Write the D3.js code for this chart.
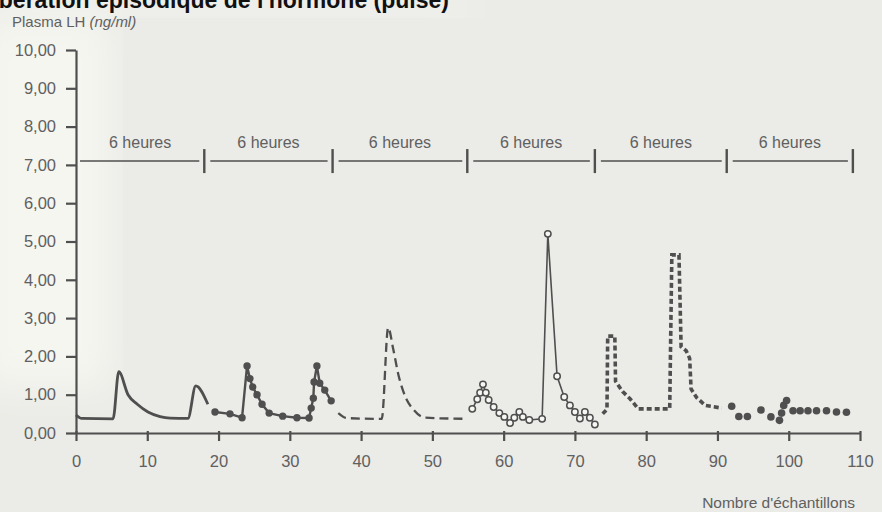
<!DOCTYPE html>
<html>
<head>
<meta charset="utf-8">
<script src="https://cdn.jsdelivr.net/npm/d3@7"></script>
<style>
  html, body { margin: 0; padding: 0; background: #ebebe7; }
  svg { display: block; font-family: "Liberation Sans", Arial, Helvetica, sans-serif; }
</style>
</head>
<body>
<svg id="chart" width="882" height="512"></svg>
<script>
// Plasma LH (ng/ml) sampled over 36 hours, six 6-hour blocks.
// Each block: [sample number, LH value]
const block1 = [[0,0.47],[0.8,0.38],[5.2,0.37],[6.0,1.6],[7.3,1.0],[8.6,0.75],[10.1,0.55],[11.8,0.43],[13.2,0.39],[15.7,0.38],[16.8,1.23],[18.5,0.75]];
const block2 = [[19.5,0.55],[21.6,0.5],[23.3,0.4],[24.0,1.75],[24.4,1.42],[24.8,1.2],[25.4,1.0],[26.1,0.75],[27.1,0.52],[29.0,0.44],[31.0,0.4],[32.7,0.39],[33.0,0.65],[33.3,0.91],[33.4,1.33],[33.8,1.75],[34.2,1.3],[34.9,1.12],[35.8,0.84]];
const block3 = [[36.8,0.52],[38.0,0.39],[42.9,0.37],[43.8,2.75],[44.5,2.2],[45.2,1.55],[46.2,0.95],[47.4,0.6],[49.0,0.4],[54.9,0.37]];
const block4 = [[55.6,0.63],[56.3,0.88],[56.7,1.05],[57.1,1.27],[57.5,1.05],[57.9,0.86],[58.6,0.68],[59.4,0.52],[60.1,0.42],[60.9,0.26],[61.5,0.4],[62.2,0.55],[62.7,0.42],[63.6,0.34],[65.4,0.37],[66.2,5.2],[67.5,1.48],[68.5,0.94],[69.3,0.72],[70.0,0.55],[70.7,0.38],[71.4,0.55],[72.1,0.4],[72.8,0.22]];
const block5 = [[73.9,0.5],[74.5,0.62],[74.6,2.53],[75.6,2.53],[75.7,1.35],[76.7,1.08],[77.7,0.9],[78.9,0.63],[83.3,0.63],[83.6,4.65],[84.6,4.65],[84.9,2.25],[85.6,2.15],[86.1,1.95],[86.3,1.15],[87.1,0.92],[88.3,0.72],[90.6,0.65]];
const block6 = [[92.0,0.7],[93.0,0.43],[94.2,0.43],[96.1,0.6],[97.5,0.42],[98.7,0.33],[99.0,0.52],[99.3,0.72],[99.7,0.85],[100.6,0.58],[101.6,0.58],[102.7,0.58],[103.9,0.58],[105.3,0.58],[106.7,0.55],[108.1,0.54]];

const yTicks = [0,1,2,3,4,5,6,7,8,9,10];
const xTicks = [0,10,20,30,40,50,60,70,80,90,100,110];
const blockEnds = [18, 36, 54.9, 72.8, 91.3, 109];   // sample where each 6 h block ends
const blockLabel = "6 heures";
const blockLevel = 7.1;                               // height of the block brackets

const titleText = "Libération épisodique de l'hormone (pulse)";
const yTitle = "Plasma LH";
const yUnit = "(ng/ml)";
const xTitle = "Nombre d'échantillons";

const ink = "#4f4f4f";
const textInk = "#606060";

const svg = d3.select("#chart");

// soft page tone
const defs = svg.append("defs");
defs.append("filter").attr("id", "soft").append("feGaussianBlur").attr("stdDeviation", 18);
svg.append("rect").attr("width", 882).attr("height", 512).attr("fill", "#ebebe7");
svg.append("rect").attr("x", -20).attr("y", 18).attr("width", 130).attr("height", 370)
  .attr("fill", "#f6f6f1").attr("filter", "url(#soft)");
svg.append("rect").attr("x", 0).attr("y", 0).attr("width", 470).attr("height", 16)
  .attr("fill", "#f4f4f0").attr("filter", "url(#soft)");

const x = d3.scaleLinear().domain([0, 110]).range([76, 860]);
const y = d3.scaleLinear().domain([0, 10]).range([433, 50]);

const fr = d3.formatLocale({decimal: ",", thousands: " ", grouping: [3], currency: ["", " €"]});
const fmt = fr.format(".2f");

// axes
const gy = svg.append("g").attr("transform", `translate(${x(0)},0)`)
  .call(d3.axisLeft(y).tickValues(yTicks).tickSize(10).tickSizeOuter(0).tickPadding(10).tickFormat(fmt));
const gx = svg.append("g").attr("transform", `translate(0,${y(0)})`)
  .call(d3.axisBottom(x).tickValues(xTicks).tickSize(8).tickSizeOuter(0).tickPadding(14).tickFormat(d3.format("d")));
[gy, gx].forEach(g => {
  g.selectAll("path.domain").attr("stroke", ink).attr("stroke-width", 2.2);
  g.selectAll(".tick line").attr("stroke", ink).attr("stroke-width", 2.2);
  g.selectAll(".tick text").attr("fill", textInk).attr("font-size", 16.5);
});
gx.selectAll(".tick line").attr("y1", -2);

// titles
svg.append("text").attr("x", 449).attr("y", 8).attr("text-anchor", "end")
  .attr("font-size", 23).attr("font-weight", "bold").attr("fill", "#111").text(titleText);
const yt = svg.append("text").attr("x", 12).attr("y", 27).attr("font-size", 15).attr("fill", textInk);
yt.append("tspan").text(yTitle + " ");
yt.append("tspan").attr("font-style", "italic").text(yUnit);
svg.append("text").attr("x", 855).attr("y", 508).attr("text-anchor", "end")
  .attr("font-size", 15.5).attr("fill", textInk).text(xTitle);

// 6-hour brackets
const by = y(blockLevel);
const starts = [0].concat(blockEnds.slice(0, -1));
const gb = svg.append("g");
blockEnds.forEach((e, i) => {
  const s = starts[i];
  gb.append("line").attr("x1", x(s) + (i === 0 ? 4 : 6)).attr("x2", x(e) - 5)
    .attr("y1", by).attr("y2", by).attr("stroke", ink).attr("stroke-width", 1.6);
  gb.append("line").attr("x1", x(e)).attr("x2", x(e)).attr("y1", by - 12).attr("y2", by + 12)
    .attr("stroke", ink).attr("stroke-width", 2.4);
  gb.append("text").attr("x", (x(s) + x(e)) / 2).attr("y", by - 13).attr("text-anchor", "middle")
    .attr("font-size", 16).attr("fill", textInk).text(blockLabel);
});

// series
const lineSmooth = d3.line().x(d => x(d[0])).y(d => y(d[1])).curve(d3.curveMonotoneX);
const lineStraight = d3.line().x(d => x(d[0])).y(d => y(d[1]));

svg.append("path").datum(block1).attr("d", lineSmooth)
  .attr("fill", "none").attr("stroke", ink).attr("stroke-width", 2.8).attr("stroke-linejoin", "round");

svg.append("path").datum(block2).attr("d", lineStraight)
  .attr("fill", "none").attr("stroke", ink).attr("stroke-width", 2.4);
svg.append("g").selectAll("circle").data(block2).join("circle")
  .attr("cx", d => x(d[0])).attr("cy", d => y(d[1])).attr("r", 3.7).attr("fill", ink);

svg.append("path").datum(block3).attr("d", lineSmooth)
  .attr("fill", "none").attr("stroke", ink).attr("stroke-width", 2.3).attr("stroke-dasharray", "9,5");

svg.append("path").datum(block4).attr("d", lineStraight)
  .attr("fill", "none").attr("stroke", ink).attr("stroke-width", 1.6);
svg.append("g").selectAll("circle").data(block4).join("circle")
  .attr("cx", d => x(d[0])).attr("cy", d => y(d[1])).attr("r", 3.2)
  .attr("fill", "#f6f6f3").attr("stroke", ink).attr("stroke-width", 1.5);

svg.append("path").datum(block5).attr("d", lineStraight)
  .attr("fill", "none").attr("stroke", ink).attr("stroke-width", 3.6).attr("stroke-dasharray", "5,3");

svg.append("g").selectAll("circle").data(block6).join("circle")
  .attr("cx", d => x(d[0])).attr("cy", d => y(d[1])).attr("r", 3.8).attr("fill", ink);
</script>
</body>
</html>
